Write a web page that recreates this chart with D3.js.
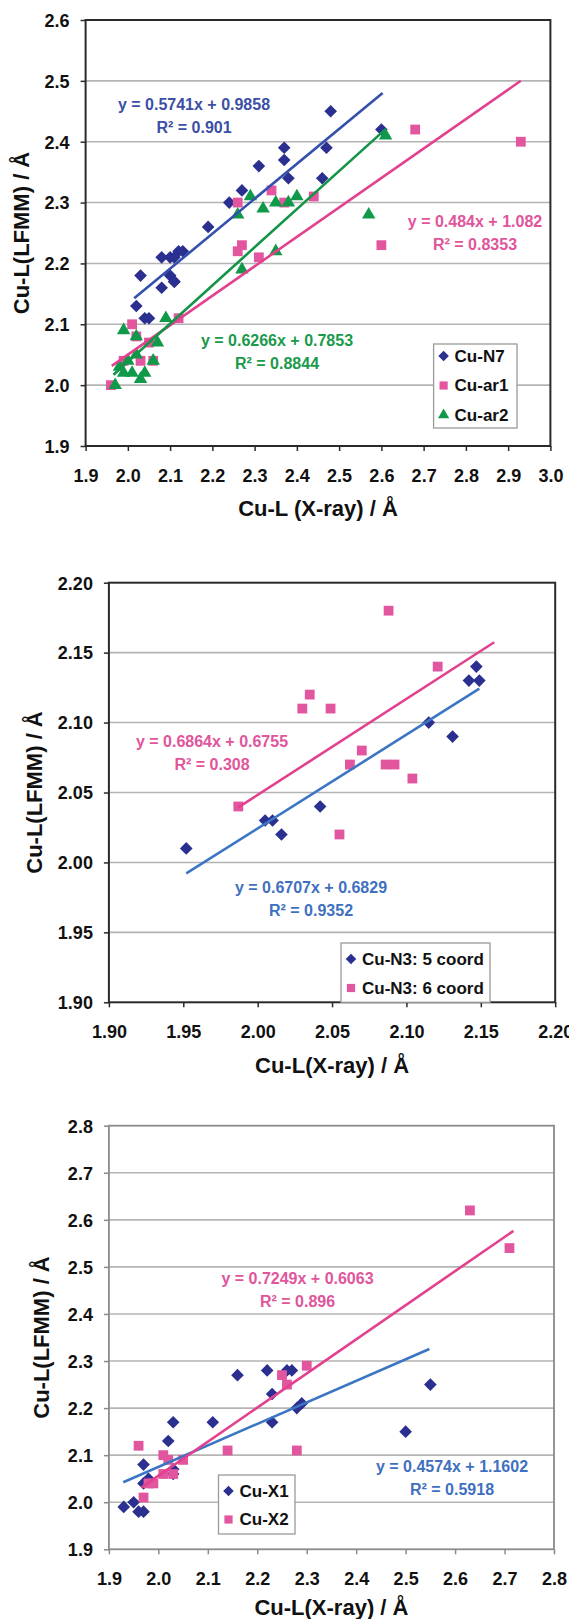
<!DOCTYPE html>
<html>
<head>
<meta charset="utf-8">
<script src="https://cdn.jsdelivr.net/npm/d3@7"></script>
<style>
  body { margin: 0; background: #fff; }
  svg text { font-family: "Liberation Sans", Arial, sans-serif; font-weight: bold; }
</style>
</head>
<body>
<svg id="chart" width="569" height="1619"></svg>
<script>
// ---- panel 1: Cu-N7 / Cu-ar1 / Cu-ar2
var p1XTicks = [1.9, 2.0, 2.1, 2.2, 2.3, 2.4, 2.5, 2.6, 2.7, 2.8, 2.9, 3.0];
var p1YTicks = [1.9, 2.0, 2.1, 2.2, 2.3, 2.4, 2.5, 2.6];
var cuN7 = [[2.02,2.13],[2.03,2.18],[2.04,2.11],[2.05,2.11],[2.08,2.16],[2.08,2.21],[2.10,2.21],
  [2.10,2.18],[2.11,2.17],[2.11,2.17],[2.11,2.21],[2.12,2.22],[2.13,2.22],[2.19,2.26],[2.24,2.30],
  [2.27,2.32],[2.31,2.36],[2.37,2.37],[2.37,2.39],[2.38,2.34],[2.46,2.34],[2.47,2.39],[2.48,2.45],[2.60,2.42]];
var cuAr1 = [[1.96,2.00],[1.99,2.04],[2.01,2.10],[2.02,2.08],[2.03,2.04],[2.06,2.04],[2.05,2.07],
  [2.12,2.11],[2.26,2.22],[2.27,2.23],[2.31,2.21],[2.26,2.30],[2.34,2.32],[2.37,2.30],[2.44,2.31],
  [2.60,2.23],[2.68,2.42],[2.93,2.40]];
var cuAr2 = [[1.97,2.00],[1.98,2.03],[1.99,2.02],[1.99,2.09],[2.00,2.04],[2.01,2.02],[2.02,2.05],
  [2.02,2.08],[2.03,2.01],[2.04,2.02],[2.06,2.04],[2.07,2.07],[2.09,2.11],[2.26,2.28],[2.27,2.19],
  [2.29,2.31],[2.32,2.29],[2.35,2.22],[2.35,2.30],[2.38,2.30],[2.40,2.31],[2.57,2.28],[2.61,2.41]];
var trendN7 = [0.5741, 0.9858, 2.015, 2.603];
var trendAr1 = [0.484, 1.082, 1.962, 2.93];
var trendAr2 = [0.6266, 0.7853, 1.966, 2.61];

// ---- panel 2: Cu-N3 5 / 6 coord
var p2XTicks = [1.90, 1.95, 2.00, 2.05, 2.10, 2.15, 2.20];
var p2YTicks = [1.90, 1.95, 2.00, 2.05, 2.10, 2.15, 2.20];
var cuN3five = [[1.952,2.01],[2.005,2.03],[2.010,2.03],[2.016,2.02],[2.042,2.04],[2.115,2.10],
  [2.131,2.09],[2.142,2.13],[2.149,2.13],[2.147,2.14]];
var cuN3six = [[1.987,2.04],[2.030,2.11],[2.035,2.12],[2.049,2.11],[2.055,2.02],[2.062,2.07],
  [2.070,2.08],[2.086,2.07],[2.092,2.07],[2.088,2.18],[2.104,2.06],[2.121,2.14]];
var trendN3five = [0.6707, 0.6829, 1.952, 2.149];
var trendN3six = [0.6864, 0.6755, 1.987, 2.159];

// ---- panel 3: Cu-X1 / Cu-X2
var p3XTicks = [1.9, 2.0, 2.1, 2.2, 2.3, 2.4, 2.5, 2.6, 2.7, 2.8];
var p3YTicks = [1.9, 2.0, 2.1, 2.2, 2.3, 2.4, 2.5, 2.6, 2.7, 2.8];
var cuX1 = [[1.93,1.99],[1.95,2.00],[1.96,1.98],[1.97,1.98],[1.97,2.04],[1.97,2.08],[1.98,2.05],
  [2.02,2.13],[2.03,2.17],[2.03,2.07],[2.03,2.06],[2.11,2.17],[2.16,2.27],[2.22,2.28],[2.23,2.23],
  [2.23,2.17],[2.26,2.28],[2.27,2.28],[2.28,2.20],[2.29,2.21],[2.50,2.15],[2.55,2.25]];
var cuX2 = [[1.96,2.12],[1.97,2.01],[1.98,2.04],[1.99,2.04],[2.01,2.10],[2.01,2.06],[2.02,2.09],
  [2.03,2.06],[2.05,2.09],[2.14,2.11],[2.25,2.27],[2.26,2.25],[2.28,2.11],[2.30,2.29],[2.63,2.62],[2.71,2.54]];
var trendX1 = [0.4574, 1.1602, 1.929, 2.548];
var trendX2 = [0.7249, 0.6063, 1.966, 2.718];

var navy = "#2b2f8f", pink = "#e2569f", green = "#11994a";
var blueA = "#3450ac", blueB = "#3b76c4", pinkLine = "#e2418f", greenLine = "#139446";

var svg = d3.select("#chart");

var square = d3.symbol().type(d3.symbolSquare);
var triangle = d3.symbol().type(d3.symbolTriangle);

function marker(g, shape, x, y, k, color) {
  if (shape == "diamond") {
    g.append("path").attr("d", square.size(80 * k)())
      .attr("transform", "translate(" + x + "," + y + ") rotate(45)").attr("fill", color);
  } else if (shape == "square") {
    g.append("path").attr("d", square.size(96 * k)())
      .attr("transform", "translate(" + x + "," + y + ")").attr("fill", color);
  } else {
    g.append("path").attr("d", triangle.size(78 * k)())
      .attr("transform", "translate(" + x + "," + y + ")").attr("fill", color);
  }
}

function panel(o) {
  var x = d3.scaleLinear().domain(o.xd).range([o.left, o.right]);
  var y = d3.scaleLinear().domain(o.yd).range([o.bottom, o.top]);
  var g = svg.append("g");

  // gridlines
  g.selectAll(".grid").data(o.yTicks.slice(1, -1)).enter().append("line")
    .attr("x1", o.left).attr("x2", o.right)
    .attr("y1", function(d) { return y(d); }).attr("y2", function(d) { return y(d); })
    .attr("stroke", "#b4b4b4").attr("stroke-width", 1.6);

  var yAxis = d3.axisLeft(y).tickValues(o.yTicks).tickSize(5).tickPadding(11)
    .tickFormat(d3.format(o.fmt));
  var xAxis = d3.axisBottom(x).tickValues(o.xTicks).tickSize(5).tickPadding(18)
    .tickFormat(d3.format(o.fmt));
  var ya = g.append("g").attr("transform", "translate(" + o.left + ",0)").call(yAxis);
  var xa = g.append("g").attr("transform", "translate(0," + o.bottom + ")").call(xAxis);
  [ya, xa].forEach(function(a) {
    a.select(".domain").remove();
    a.selectAll("line").attr("stroke", o.border).attr("stroke-width", 1.5);
    a.selectAll("text").attr("fill", "#111").style("font-size", "18px");
  });
  ya.selectAll("text").attr("dy", "0.35em");

  g.append("rect").attr("x", o.left).attr("y", o.top)
    .attr("width", o.right - o.left).attr("height", o.bottom - o.top)
    .attr("fill", "none").attr("stroke", o.border).attr("stroke-width", o.borderW);

  // series
  o.series.forEach(function(s) {
    s.data.forEach(function(d) { marker(g, s.shape, x(d[0]), y(d[1]), 1, s.color); });
  });
  // trendlines
  o.series.forEach(function(s) {
    var t = s.trend;
    g.append("line")
      .attr("x1", x(t[2])).attr("y1", y(t[0] * t[2] + t[1]))
      .attr("x2", x(t[3])).attr("y2", y(t[0] * t[3] + t[1]))
      .attr("stroke", s.line).attr("stroke-width", 2.6);
  });

  // equations
  o.series.forEach(function(s) {
    var eq = "y = " + s.trend[0] + "x + " + s.trend[1];
    g.append("text").attr("x", s.eqPos[0]).attr("y", s.eqPos[1]).attr("dy", "0.35em")
      .attr("text-anchor", "middle").style("font-size", "16px").attr("fill", s.text).text(eq);
    g.append("text").attr("x", s.eqPos[0]).attr("y", s.eqPos[1] + 23).attr("dy", "0.35em")
      .attr("text-anchor", "middle").style("font-size", "16px").attr("fill", s.text)
      .text("R\u00b2 = " + s.r2);
  });

  // legend
  var L = o.legend;
  g.append("rect").attr("x", L.x).attr("y", L.y).attr("width", L.w).attr("height", L.h)
    .attr("fill", "#fff").attr("stroke", "#9a9a9a").attr("stroke-width", 1.3);
  o.series.forEach(function(s, i) {
    var cy = L.y + L.first + i * L.step;
    marker(g, s.shape, L.x + 10, cy, 0.7, s.color);
    g.append("text").attr("x", L.x + 21).attr("y", cy).attr("dy", "0.35em")
      .style("font-size", "17px").attr("fill", "#111").text(s.name);
  });

  // axis titles
  g.append("text").attr("x", (o.left + o.right) / 2).attr("y", o.bottom + o.xTitleOff)
    .attr("text-anchor", "middle").style("font-size", "22px").attr("fill", "#111").text(o.xTitle);
  g.append("text").attr("transform", "translate(" + o.yTitleX + "," + (o.top + o.bottom) / 2 + ") rotate(-90)")
    .attr("dy", "0.35em").attr("text-anchor", "middle").style("font-size", "22px")
    .attr("fill", "#111").text("Cu-L(LFMM) / \u00c5");
}

panel({
  left: 85.6, right: 550.4, top: 20, bottom: 446, xd: [1.9, 3.0], yd: [1.9, 2.6],
  xTicks: p1XTicks, yTicks: p1YTicks, fmt: ".1f", border: "#2a2a2a", borderW: 2,
  xTitle: "Cu-L (X-ray) / \u00c5", xTitleOff: 70, yTitleX: 21,
  legend: {x: 433.6, y: 344, w: 83.4, h: 84, first: 12, step: 29.5},
  series: [
    {name: "Cu-N7", data: cuN7, shape: "diamond", color: navy, line: blueA, text: "#3c4fa5",
     trend: trendN7, r2: "0.901", eqPos: [194, 104]},
    {name: "Cu-ar1", data: cuAr1, shape: "square", color: pink, line: pinkLine, text: "#e0559b",
     trend: trendAr1, r2: "0.8353", eqPos: [475, 221]},
    {name: "Cu-ar2", data: cuAr2, shape: "triangle", color: green, line: greenLine, text: "#1a9a4a",
     trend: trendAr2, r2: "0.8844", eqPos: [277, 340]}
  ]
});

panel({
  left: 108.9, right: 555.2, top: 582.7, bottom: 1002.3, xd: [1.90, 2.20], yd: [1.90, 2.20],
  xTicks: p2XTicks, yTicks: p2YTicks, fmt: ".2f", border: "#2a2a2a", borderW: 2,
  xTitle: "Cu-L(X-ray) / \u00c5", xTitleOff: 71, yTitleX: 34,
  legend: {x: 341, y: 943, w: 149, h: 59.3, first: 16, step: 29},
  series: [
    {name: "Cu-N3: 5 coord", data: cuN3five, shape: "diamond", color: navy, line: blueB, text: "#3f70c0",
     trend: trendN3five, r2: "0.9352", eqPos: [311, 887]},
    {name: "Cu-N3: 6 coord", data: cuN3six, shape: "square", color: pink, line: pinkLine, text: "#e0559b",
     trend: trendN3six, r2: "0.308", eqPos: [212, 741]}
  ]
});

panel({
  left: 108.9, right: 554, top: 1125.7, bottom: 1549.3, xd: [1.9, 2.8], yd: [1.9, 2.8],
  xTicks: p3XTicks, yTicks: p3YTicks, fmt: ".1f", border: "#8a8a8a", borderW: 1.8,
  xTitle: "Cu-L(X-ray) / \u00c5", xTitleOff: 66, yTitleX: 41,
  legend: {x: 218.5, y: 1475, w: 76.5, h: 59, first: 16, step: 28.5},
  series: [
    {name: "Cu-X1", data: cuX1, shape: "diamond", color: navy, line: blueB, text: "#3f70c0",
     trend: trendX1, r2: "0.5918", eqPos: [452, 1466]},
    {name: "Cu-X2", data: cuX2, shape: "square", color: pink, line: pinkLine, text: "#e0559b",
     trend: trendX2, r2: "0.896", eqPos: [297.5, 1278]}
  ]
});
</script>
</body>
</html>
